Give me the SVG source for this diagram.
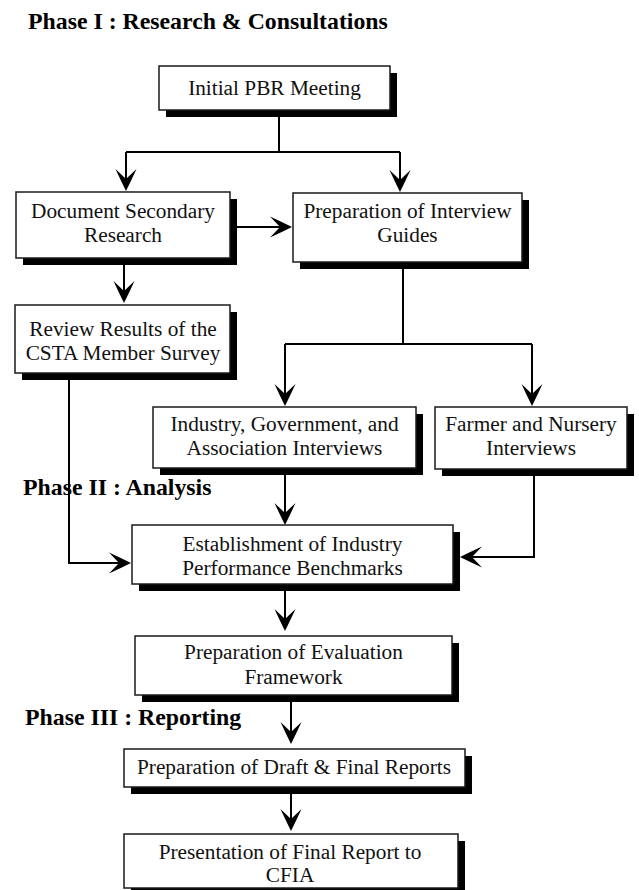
<svg xmlns="http://www.w3.org/2000/svg" width="639" height="890" viewBox="0 0 639 890">
  <style>
    .box { fill: #ffffff; stroke: #1a1a1a; stroke-width: 1.5; }
    .shadow { fill: #000000; }
    .label { font-family: 'Times New Roman', 'Liberation Serif', Tinos, Times, serif; font-size: 21.3px; fill: #111111; text-anchor: middle; }
    .phase { font-family: 'Times New Roman', 'Liberation Serif', Tinos, Times, serif; font-size: 23.8px; font-weight: bold; fill: #000000; }
    .conn { fill: none; stroke: #000000; stroke-width: 2; }
    .arrow { marker-end: url(#arrowhead); }
  </style>
  <defs>
    <marker id="arrowhead" viewBox="0 0 22 22" refX="10" refY="11" markerWidth="22" markerHeight="22" markerUnits="userSpaceOnUse" orient="auto">
      <path d="M0,0.5 Q12,6 22,11 Q12,16 0,21.5 L10,11 Z" fill="#000000"/>
    </marker>
  </defs>

  <rect width="639" height="890" fill="#ffffff"/>

  <g id="phase-labels">
    <text class="phase" x="28" y="29">Phase I : Research &amp; Consultations</text>
    <text class="phase" x="23" y="495">Phase II : Analysis</text>
    <text class="phase" x="25" y="725">Phase III : Reporting</text>
  </g>

  <g id="connectors">
    <path class="conn" d="M279,110 V152"/>
    <path class="conn" d="M126,152 H400"/>
    <path class="conn arrow" d="M126,152 V179"/>
    <path class="conn arrow" d="M400,152 V180"/>
    <path class="conn arrow" d="M237,227 H280"/>
    <path class="conn arrow" d="M124,265 V291"/>
    <path class="conn" d="M403,269 V344"/>
    <path class="conn" d="M285,344 H532"/>
    <path class="conn arrow" d="M285,344 V394"/>
    <path class="conn arrow" d="M532,344 V394"/>
    <path class="conn arrow" d="M69,380 V563 H119"/>
    <path class="conn arrow" d="M285,475 V513"/>
    <path class="conn arrow" d="M534,476 V557 H472"/>
    <path class="conn arrow" d="M285,591 V619"/>
    <path class="conn arrow" d="M291,702 V732"/>
    <path class="conn arrow" d="M291,794 V819"/>
  </g>

  <g id="initial-meeting">
    <rect class="shadow" x="166" y="73" width="231" height="44"/>
    <rect class="box" x="159" y="66" width="231" height="44"/>
    <text class="label" x="274.5" y="95">Initial PBR Meeting</text>
  </g>

  <g id="document-research">
    <rect class="shadow" x="23" y="199" width="214" height="66"/>
    <rect class="box" x="16" y="192" width="214" height="66"/>
    <text class="label" x="123" y="218">Document Secondary</text>
    <text class="label" x="123" y="242">Research</text>
  </g>

  <g id="interview-guides">
    <rect class="shadow" x="300" y="200" width="229" height="69"/>
    <rect class="box" x="293" y="193" width="229" height="69"/>
    <text class="label" x="407.5" y="218">Preparation of Interview</text>
    <text class="label" x="407.5" y="242">Guides</text>
  </g>

  <g id="review-survey">
    <rect class="shadow" x="22" y="312" width="215" height="68"/>
    <rect class="box" x="15" y="305" width="215" height="68"/>
    <text class="label" x="123" y="336">Review Results of the</text>
    <text class="label" x="123" y="360">CSTA Member Survey</text>
  </g>

  <g id="industry-interviews">
    <rect class="shadow" x="160" y="414" width="263" height="61"/>
    <rect class="box" x="153" y="407" width="263" height="61"/>
    <text class="label" x="284.5" y="431">Industry, Government, and</text>
    <text class="label" x="284.5" y="455">Association Interviews</text>
  </g>

  <g id="farmer-interviews">
    <rect class="shadow" x="442" y="414" width="192" height="62"/>
    <rect class="box" x="435" y="407" width="192" height="62"/>
    <text class="label" x="531" y="431">Farmer and Nursery</text>
    <text class="label" x="531" y="455">Interviews</text>
  </g>

  <g id="benchmarks">
    <rect class="shadow" x="139" y="532" width="321" height="59"/>
    <rect class="box" x="132" y="525" width="321" height="59"/>
    <text class="label" x="292.5" y="551">Establishment of Industry</text>
    <text class="label" x="292.5" y="575">Performance Benchmarks</text>
  </g>

  <g id="evaluation-framework">
    <rect class="shadow" x="142" y="643" width="317" height="59"/>
    <rect class="box" x="135" y="636" width="317" height="59"/>
    <text class="label" x="293.5" y="659">Preparation of Evaluation</text>
    <text class="label" x="293.5" y="684">Framework</text>
  </g>

  <g id="draft-reports">
    <rect class="shadow" x="131" y="756" width="341" height="38"/>
    <rect class="box" x="124" y="749" width="341" height="38"/>
    <text class="label" x="294" y="774">Preparation of Draft &amp; Final Reports</text>
  </g>

  <g id="final-presentation">
    <rect class="shadow" x="131" y="841" width="334" height="54"/>
    <rect class="box" x="124" y="834" width="334" height="54"/>
    <text class="label" x="290" y="859">Presentation of Final Report to</text>
    <text class="label" x="290" y="882">CFIA</text>
  </g>
</svg>
